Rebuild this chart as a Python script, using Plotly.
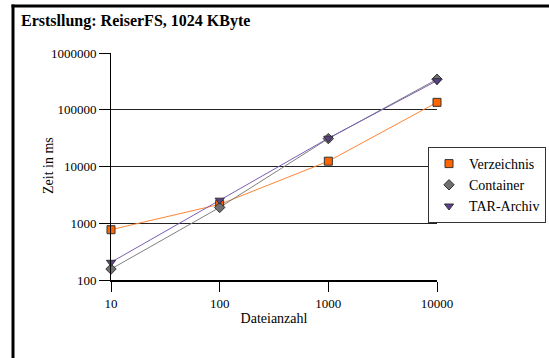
import plotly.graph_objects as go

dateianzahl = [10, 100, 1000, 10000]
verzeichnis = [770, 2150, 12400, 135000]
container = [156, 1900, 31000, 345000]
tar_archiv = [205, 2550, 31500, 325000]

series = [
    ("Verzeichnis", verzeichnis, "#FF6600", "#FF8533", "square"),
    ("Container", container, "#707070", "#808080", "diamond"),
    ("TAR-Archiv", tar_archiv, "#5B3F8C", "#7B5DB5", "triangle-down"),
]

L, R, T, B = 111, 437, 53, 280
W, H = 549, 358
SERIF = "Liberation Serif, Times New Roman, serif"

fig = go.Figure()
for name, vals, mcol, lcol, sym in series:
    fig.add_trace(go.Scatter(
        x=dateianzahl, y=vals, name=name, mode="lines",
        line=dict(color=lcol, width=1), showlegend=False, hoverinfo="skip",
    ))
for name, vals, mcol, lcol, sym in series:
    fig.add_trace(go.Scatter(
        x=dateianzahl, y=vals, name=name, mode="markers",
        marker=dict(symbol=sym, size=8, color=mcol, line=dict(color="#333333", width=1)),
        cliponaxis=False,
    ))

def px_x(p):
    return (p - L) / (R - L)

def px_y(p):
    return (B - p) / (B - T)

fig.update_layout(
    width=W, height=H,
    margin=dict(l=L, r=W - R, t=T, b=H - B, pad=0, autoexpand=False),
    paper_bgcolor="white", plot_bgcolor="white",
    font=dict(family=SERIF, size=13, color="black"),
    showlegend=True,
    legend=dict(
        x=px_x(428), y=px_y(147), xanchor="left", yanchor="top",
        bordercolor="#333333", borderwidth=1, bgcolor="white",
        font=dict(family=SERIF, size=14, color="black"),
        tracegroupgap=0, itemwidth=30,
    ),
    annotations=[
        dict(text="<b>Erstsllung: ReiserFS, 1024 KByte</b>", x=px_x(19), y=px_y(21),
             xref="paper", yref="paper", xanchor="left", yanchor="middle", showarrow=False,
             font=dict(family=SERIF, size=16, color="black")),
        dict(text="Zeit in ms", x=px_x(48), y=px_y(166), textangle=-90,
             xref="paper", yref="paper", xanchor="center", yanchor="middle", showarrow=False,
             font=dict(family=SERIF, size=14, color="black")),
    ],
    shapes=[
        dict(type="line", xref="paper", yref="paper", x0=px_x(13), x1=px_x(13),
             y0=px_y(370), y1=px_y(4.5), line=dict(color="black", width=3)),
        dict(type="line", xref="paper", yref="paper", x0=px_x(11.5), x1=px_x(549),
             y0=px_y(6), y1=px_y(6), line=dict(color="black", width=3)),
    ],
)
fig.update_xaxes(
    type="log", range=[1, 4], tickvals=dateianzahl, ticktext=["10", "100", "1000", "10000"],
    showgrid=False, showline=True, linecolor="black", linewidth=2,
    ticks="outside", ticklen=10, tickcolor="black", tickwidth=1,
    tickfont=dict(family=SERIF, size=13),
    title=dict(text="Dateianzahl", standoff=4, font=dict(family=SERIF, size=14)),
    zeroline=False, automargin=False,
)
fig.update_yaxes(
    type="log", range=[2, 6],
    tickvals=[100, 1000, 10000, 100000, 1000000],
    ticktext=["100", "1000", "10000", "100000", "1000000"],
    showgrid=True, gridcolor="#222222", gridwidth=1,
    showline=True, linecolor="black", linewidth=1,
    ticks="outside", ticklen=11, tickcolor="black", tickwidth=1,
    tickfont=dict(family=SERIF, size=13),
    zeroline=False, automargin=False,
)
fig.write_html("out.html")
